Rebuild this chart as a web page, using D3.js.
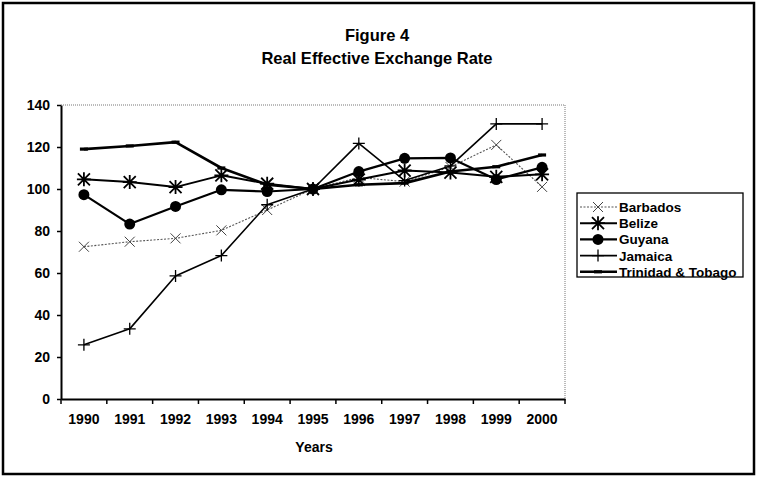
<!DOCTYPE html>
<html>
<head>
<meta charset="utf-8">
<script src="https://cdn.jsdelivr.net/npm/d3@7"></script>
<style>
  html, body { margin: 0; padding: 0; background: #fff; }
  svg { display: block; font-family: "Liberation Sans", Arial, sans-serif; }
</style>
</head>
<body>
<svg id="chart" width="757" height="478"></svg>
<script>
const years = ["1990","1991","1992","1993","1994","1995","1996","1997","1998","1999","2000"];
const yTicks = [0, 20, 40, 60, 80, 100, 120, 140];
const seriesNames = ["Barbados", "Belize", "Guyana", "Jamaica", "Trinidad & Tobago"];
const barbados = [72.5, 74.9, 76.5, 80.3, 90.0, 100, 105.5, 103.5, 110.5, 121.0, 101.0];
const belize   = [104.6, 103.3, 100.9, 106.5, 102.5, 100, 104.5, 108.8, 107.8, 105.8, 107.0];
const guyana   = [97.3, 83.3, 91.7, 99.6, 98.8, 100, 108.3, 114.6, 114.8, 104.5, 110.3];
const jamaica  = [25.8, 33.4, 58.6, 68.3, 92.5, 100, 121.7, 104.0, 111.0, 131.0, 131.0];
const trinidad = [119.0, 120.5, 122.3, 110.0, 102.0, 100, 102.0, 102.8, 108.3, 110.6, 116.2];
const titleLines = ["Figure 4", "Real Effective Exchange Rate"];
const xTitle = "Years";

const seriesValues = [barbados, belize, guyana, jamaica, trinidad];
const styles = [
  { stroke: "#555", width: 1.1, dash: "2,1.5", marker: "x" },
  { stroke: "#000", width: 2.0, dash: null, marker: "star" },
  { stroke: "#000", width: 2.2, dash: null, marker: "circle" },
  { stroke: "#000", width: 1.6, dash: null, marker: "plus" },
  { stroke: "#000", width: 2.6, dash: null, marker: "dash" }
];

const svg = d3.select("#chart");
const W = 757, H = 478;
const plot = { left: 61, right: 565, top: 105, bottom: 399 };

// outer frame
svg.append("rect").attr("x", 3).attr("y", 3).attr("width", W - 6).attr("height", H - 7)
  .attr("fill", "none").attr("stroke", "#000").attr("stroke-width", 2.5);

// title
svg.append("g").selectAll("text").data(titleLines).join("text")
  .attr("x", 377).attr("y", (d, i) => 41 + i * 23)
  .attr("text-anchor", "middle").attr("font-weight", "bold").attr("font-size", 16.5)
  .text(d => d);

const x = d3.scaleBand().domain(years).range([plot.left, plot.right]);
const y = d3.scaleLinear().domain([0, 140]).range([plot.bottom, plot.top]);

// plot border (dotted top/right)
svg.append("path")
  .attr("d", `M${plot.left},${y(140)}H${plot.right}V${plot.bottom}`)
  .attr("fill", "none").attr("stroke", "#777").attr("stroke-width", 1).attr("stroke-dasharray", "1,1");

// y axis
const yAxis = svg.append("g").attr("transform", `translate(${plot.left},0)`)
  .call(d3.axisLeft(y).tickValues(yTicks).tickSize(4).tickPadding(7).tickSizeOuter(0));
yAxis.select(".domain").attr("stroke", "#000").attr("stroke-width", 2);
yAxis.selectAll(".tick line").attr("stroke", "#000").attr("stroke-width", 1.5);
yAxis.selectAll(".tick text").attr("font-size", 14).attr("font-weight", "bold")
  .attr("font-family", "Liberation Sans, Arial, sans-serif").attr("fill", "#000");

// x axis
const xAxis = svg.append("g").attr("transform", `translate(0,${plot.bottom})`)
  .call(d3.axisBottom(x).tickSize(0).tickPadding(15).tickSizeOuter(0));
xAxis.select(".domain").attr("stroke", "#000").attr("stroke-width", 2);
xAxis.selectAll(".tick text").attr("font-size", 14).attr("font-weight", "bold")
  .attr("font-family", "Liberation Sans, Arial, sans-serif").attr("fill", "#000");
const bounds = years.map(d => x(d)).concat([x.range()[1]]);
svg.append("g").selectAll("line").data(bounds).join("line")
  .attr("x1", d => d).attr("x2", d => d)
  .attr("y1", plot.bottom).attr("y2", plot.bottom + 5)
  .attr("stroke", "#000").attr("stroke-width", 1.5);

svg.append("text").attr("x", 314).attr("y", 452).attr("text-anchor", "middle")
  .attr("font-weight", "bold").attr("font-size", 14).text(xTitle);

// markers
function drawMarker(g, type, cx, cy) {
  if (type === "x") {
    const s = 5;
    g.append("path").attr("d", `M${cx-s},${cy-s}L${cx+s},${cy+s}M${cx-s},${cy+s}L${cx+s},${cy-s}`)
      .attr("stroke", "#444").attr("stroke-width", 1).attr("fill", "none");
  } else if (type === "star") {
    const s = 6;
    g.append("path").attr("d", `M${cx-s},${cy-s}L${cx+s},${cy+s}M${cx-s},${cy+s}L${cx+s},${cy-s}M${cx},${cy-s-1}L${cx},${cy+s+1}M${cx-s-1},${cy}L${cx+s+1},${cy}`)
      .attr("stroke", "#000").attr("stroke-width", 1.8).attr("fill", "none");
  } else if (type === "circle") {
    g.append("circle").attr("cx", cx).attr("cy", cy).attr("r", 5.5).attr("fill", "#000");
  } else if (type === "plus") {
    const s = 6;
    g.append("path").attr("d", `M${cx-s},${cy}L${cx+s},${cy}M${cx},${cy-s}L${cx},${cy+s}`)
      .attr("stroke", "#000").attr("stroke-width", 1.3).attr("fill", "none");
  } else if (type === "dash") {
    g.append("path").attr("d", `M${cx-4},${cy}L${cx+4},${cy}`)
      .attr("stroke", "#000").attr("stroke-width", 3.2).attr("fill", "none");
  }
}

const line = d3.line().x((d, i) => x(years[i]) + x.bandwidth() / 2).y(d => y(d));
seriesValues.forEach((vals, si) => {
  const st = styles[si];
  const g = svg.append("g");
  g.append("path").attr("d", line(vals)).attr("fill", "none")
    .attr("stroke", st.stroke).attr("stroke-width", st.width)
    .attr("stroke-dasharray", st.dash).attr("stroke-linejoin", "round");
  vals.forEach((v, i) => drawMarker(g, st.marker, x(years[i]) + x.bandwidth() / 2, y(v)));
});

// legend
const leg = svg.append("g");
leg.append("rect").attr("x", 577).attr("y", 193).attr("width", 166).attr("height", 84)
  .attr("fill", "#fff").attr("stroke", "#000").attr("stroke-width", 1.3);
seriesNames.forEach((name, i) => {
  const ly = 207 + i * 16.2;
  const st = styles[i];
  leg.append("line").attr("x1", 580).attr("x2", 617).attr("y1", ly).attr("y2", ly)
    .attr("stroke", st.stroke).attr("stroke-width", st.width).attr("stroke-dasharray", st.dash);
  drawMarker(leg, st.marker, 598, ly);
  leg.append("text").attr("x", 619).attr("y", ly + 5).attr("font-size", 13.5)
    .attr("font-weight", "bold").text(name);
});
</script>
</body>
</html>
